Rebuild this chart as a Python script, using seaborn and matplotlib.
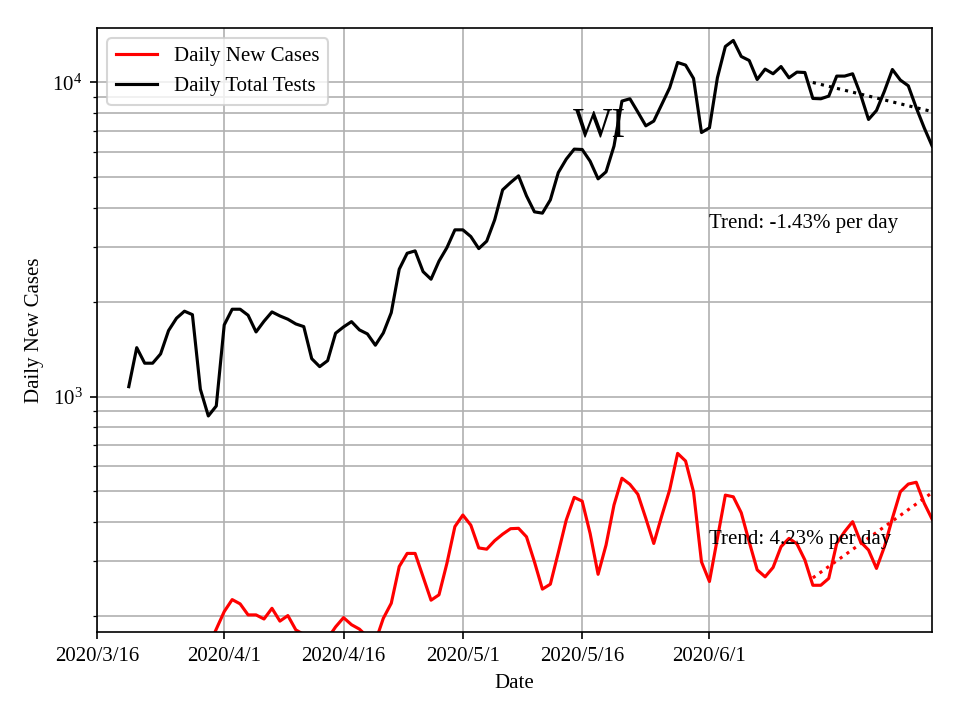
import numpy as np
import pandas as pd
import matplotlib
matplotlib.use("Agg")
import matplotlib.pyplot as plt
import seaborn as sns

plt.rcParams['font.family'] = ['Liberation Serif', 'DejaVu Serif']
plt.rcParams['mathtext.fontset'] = 'custom'
plt.rcParams['mathtext.rm'] = 'Liberation Serif'
plt.rcParams['mathtext.it'] = 'Liberation Serif:italic'
plt.rcParams['font.size'] = 10

# ---- data ----
start_date = "2020-03-20"

daily_new_cases = [
    60, 70, 75, 80, 95, 110, 120, 130, 135, 150,
    160, 182, 207, 226, 219, 202, 202, 196, 212, 193,
    201, 181, 175, 165, 160, 170, 185, 198, 188, 182,
    172, 166, 197, 220, 288, 317, 317, 267, 225, 234,
    295, 386, 420, 390, 330, 327, 348, 365, 380, 381,
    358, 298, 244, 253, 319, 405, 478, 465, 367, 272,
    337, 452, 550, 526, 489, 410, 341, 417, 505, 660,
    624, 498, 298, 258, 354, 486, 480, 427, 345, 281,
    267, 286, 333, 354, 340, 302, 251, 251, 264, 341,
    372, 400, 345, 325, 284, 333, 410, 498, 527, 534,
    458, 407,
]

daily_total_tests = [
    1076, 1432, 1278, 1278, 1368, 1623, 1777, 1871, 1824, 1056,
    868, 934, 1692, 1898, 1898, 1816, 1607, 1738, 1861, 1807,
    1764, 1704, 1671, 1321, 1246, 1302, 1592, 1667, 1733, 1631,
    1584, 1458, 1595, 1851, 2545, 2861, 2911, 2500, 2365, 2700,
    2982, 3396, 3396, 3233, 2960, 3126, 3654, 4552, 4804, 5045,
    4357, 3875, 3838, 4231, 5168, 5702, 6136, 6120, 5617, 4935,
    5195, 6274, 8726, 8875, 8050, 7279, 7536, 8511, 9617, 11580,
    11360, 10300, 6930, 7173, 10350, 13020, 13610, 12100, 11750, 10220,
    11030, 10660, 11240, 10350, 10790, 10760, 8895, 8875, 9050, 10480,
    10480, 10660, 9157, 7626, 8145, 9389, 11000, 10180, 9761, 8307,
    7173, 6274,
]

trend_dates = ["2020-06-14", "2020-06-29"]
cases_trend = [265, 495]
tests_trend = [10000, 8080]

tick_dates = ["2020-03-16", "2020-04-01", "2020-04-16", "2020-05-01", "2020-05-16", "2020-06-01"]
tick_labels = ["2020/3/16", "2020/4/1", "2020/4/16", "2020/5/1", "2020/5/16", "2020/6/1"]

series_names = ["Daily New Cases", "Daily Total Tests"]
series_colors = ["red", "black"]

# ---- frames ----
dates = pd.date_range(start_date, periods=len(daily_total_tests), freq="D")
df = pd.concat([
    pd.DataFrame({"date": dates, "value": daily_new_cases, "series": series_names[0]}),
    pd.DataFrame({"date": dates, "value": daily_total_tests, "series": series_names[1]}),
], ignore_index=True)

tdates = pd.to_datetime(trend_dates)
df_trend = pd.concat([
    pd.DataFrame({"date": tdates, "value": cases_trend, "series": series_names[0]}),
    pd.DataFrame({"date": tdates, "value": tests_trend, "series": series_names[1]}),
], ignore_index=True)

palette = dict(zip(series_names, series_colors))

fig = plt.figure(figsize=(6.4, 4.8), dpi=150)
ax = fig.add_axes([0.101, 0.122, 0.870, 0.839])
ax.set_yscale("log")

sns.lineplot(data=df, x="date", y="value", hue="series", hue_order=series_names,
             palette=palette, linewidth=1.5, ax=ax)
sns.lineplot(data=df_trend, x="date", y="value", hue="series", hue_order=series_names,
             palette=palette, linewidth=1.5, linestyle=":", legend=False, ax=ax)

ax.set_xlim(pd.Timestamp("2020-03-16"), pd.Timestamp("2020-06-29"))
ax.set_ylim(178, 14900)
ax.set_xticks(pd.to_datetime(tick_dates))
ax.set_xticklabels(tick_labels)
ax.grid(True, which="both", color="#b0b0b0", linewidth=0.8)
ax.set_axisbelow(True)

ax.set_xlabel("Date")
ax.set_ylabel("Daily New Cases")

ax.legend(loc="upper left", title=None)

ax.text(0.602, 0.82, "WI", transform=ax.transAxes, ha="center", va="baseline", fontsize=20)
ax.text(pd.Timestamp("2020-06-01"), 3450, "Trend: -1.43% per day", ha="left", va="baseline")
ax.text(pd.Timestamp("2020-06-01"), 340, "Trend: 4.23% per day", ha="left", va="baseline")

fig.savefig("out.png", dpi=150)
